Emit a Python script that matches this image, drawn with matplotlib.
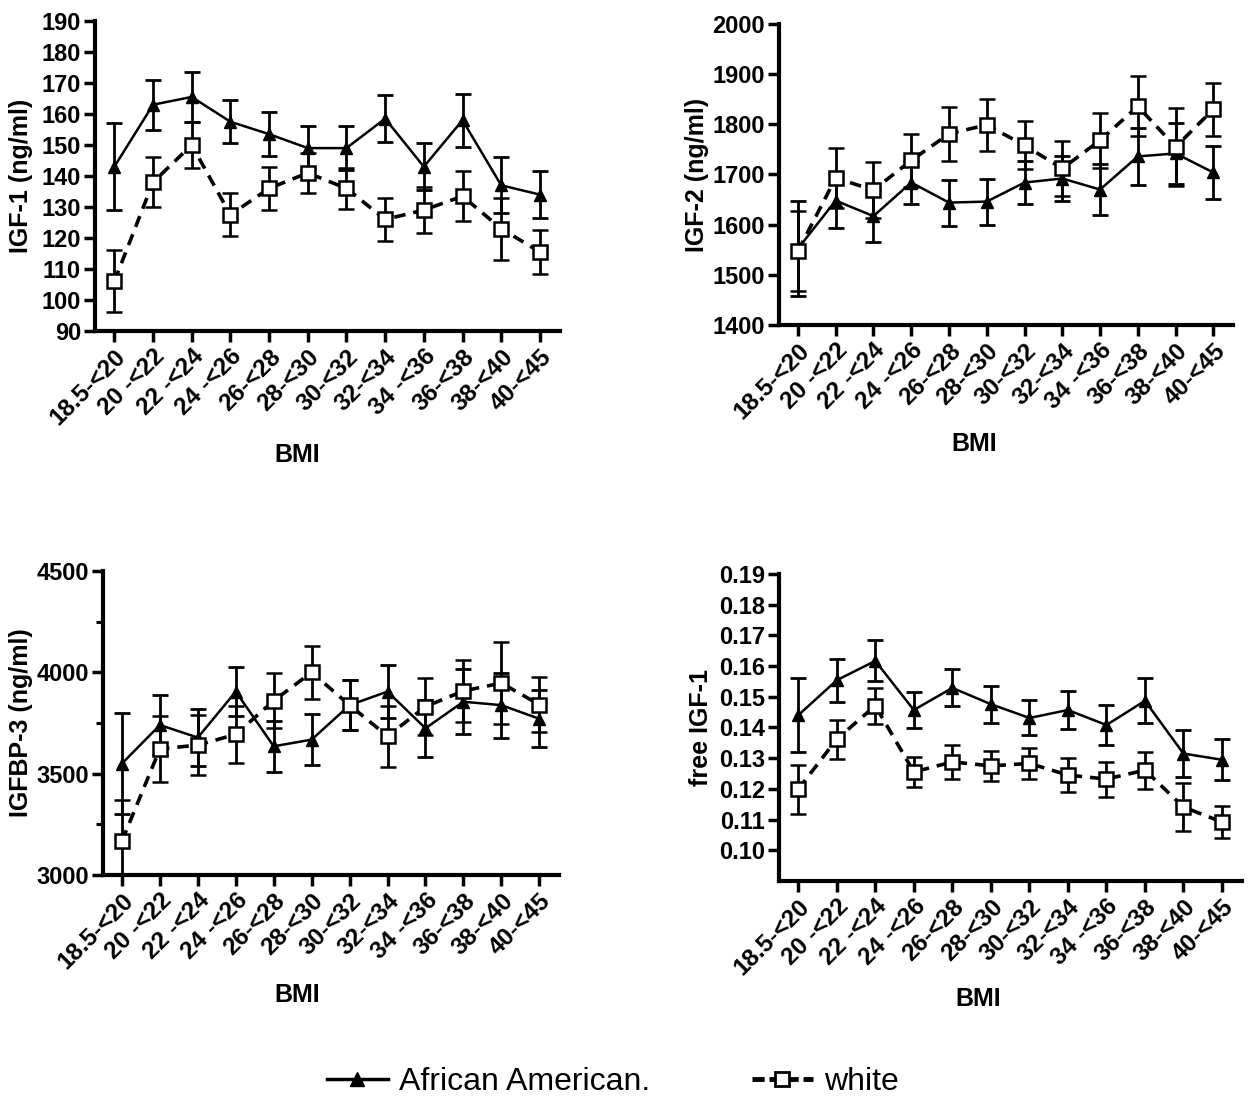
import numpy as np
import matplotlib
matplotlib.use('Agg')
import matplotlib.pyplot as plt
from matplotlib.lines import Line2D

plt.rcParams['font.family'] = ['Liberation Sans', 'DejaVu Sans']

# BMI categories
bmi_labels = ['18.5-<20', '20 -<22', '22 -<24', '24 -<26', '26-<28', '28-<30',
              '30-<32', '32-<34', '34 -<36', '36-<38', '38-<40', '40-<45']

# IGF-1 (ng/ml), mean and SE
igf1_aa = [143, 163, 165.5, 157.5, 153.5, 149, 149, 158.5, 143, 158, 137, 134]
igf1_aa_se = [14, 8, 8, 7, 7, 7, 7, 7.5, 7.5, 8.5, 9, 7.5]
igf1_wh = [106, 138, 150, 127.5, 136, 141, 136, 126, 129, 133.5, 123, 115.5]
igf1_wh_se = [10, 8, 7.5, 7, 7, 6.5, 6.5, 7, 7.5, 8, 10, 7]

# IGF-2 (ng/ml)
igf2_aa = [1552, 1648, 1617, 1684, 1644, 1646, 1684, 1692, 1670, 1736, 1742, 1704]
igf2_aa_se = [95, 55, 52, 43, 46, 46, 42, 45, 51, 57, 60, 52]
igf2_wh = [1547, 1693, 1669, 1728, 1781, 1799, 1758, 1712, 1768, 1836, 1755, 1830]
igf2_wh_se = [80, 60, 55, 52, 54, 52, 48, 55, 55, 60, 77, 53]

# IGFBP-3 (ng/ml)
bp3_aa = [3550, 3740, 3678, 3905, 3635, 3668, 3838, 3905, 3724, 3855, 3838, 3771]
bp3_aa_se = [250, 150, 140, 120, 125, 125, 125, 130, 140, 160, 160, 141]
bp3_wh = [3168, 3622, 3641, 3694, 3860, 4000, 3838, 3685, 3831, 3908, 3947, 3841]
bp3_wh_se = [200, 163, 150, 140, 135, 130, 125, 150, 140, 155, 204, 134]

# free IGF-1
free_aa = [0.144, 0.1554, 0.1617, 0.1457, 0.1529, 0.1476, 0.1431, 0.1457, 0.1408, 0.1487, 0.1315, 0.1295]
free_aa_se = [0.012, 0.007, 0.0067, 0.006, 0.006, 0.006, 0.0057, 0.0063, 0.0066, 0.0073, 0.0077, 0.0067]
free_wh = [0.1199, 0.1362, 0.1471, 0.1255, 0.1288, 0.1275, 0.1283, 0.1245, 0.1232, 0.1261, 0.1141, 0.1092]
free_wh_se = [0.008, 0.0063, 0.0058, 0.005, 0.0056, 0.005, 0.005, 0.0055, 0.0057, 0.006, 0.0078, 0.0053]

W, H = 1248, 1102
fig = plt.figure(figsize=(W / 100, H / 100), dpi=100)


def px_axes(left, right, top, bottom):
    # axes from pixel box
    return fig.add_axes([left / W, 1 - bottom / H, (right - left) / W, (bottom - top) / H])


dash = (0, (3.2, 2.2))


def draw_panel(ax, aa, aa_se, wh, wh_se, ylabel, ylim, yticks, fmt, ylab_x, bmi_x, bmi_y, minor=None):
    x = np.arange(len(bmi_labels))
    ax.errorbar(x, aa, yerr=aa_se, color='black', lw=1.8, marker='^', ms=9,
                capsize=5.5, capthick=2, elinewidth=2, zorder=3)
    ax.errorbar(x, wh, yerr=wh_se, color='black', lw=2.6, linestyle=dash, marker='s', ms=10,
                mfc='white', mec='black', mew=1.8, capsize=5.5, capthick=2, elinewidth=2, zorder=4)
    ax.set_xlim(-0.5, 11.52)
    ax.set_ylim(*ylim)
    ax.set_yticks(yticks)
    ax.set_yticklabels([fmt.format(v) for v in yticks])
    if minor is not None:
        ax.set_yticks(minor, minor=True)
        ax.tick_params(axis='y', which='minor', length=5, width=2.2)
    ax.set_xticks(x)
    ax.set_xticklabels(bmi_labels, rotation=45, ha='right', rotation_mode='anchor')
    for s in ['top', 'right']:
        ax.spines[s].set_visible(False)
    for s in ['left', 'bottom']:
        ax.spines[s].set_linewidth(3)
    ax.tick_params(axis='both', which='major', length=8, width=2.5, labelsize=17, pad=2)
    for lab in ax.get_xticklabels() + ax.get_yticklabels():
        lab.set_fontweight('bold')
    for lab in ax.get_xticklabels():
        lab.set_fontsize(17.5)
    ax.set_ylabel(ylabel, fontsize=18, fontweight='bold')
    bb = ax.get_position()
    ax.yaxis.set_label_coords((ylab_x / W - bb.x0) / bb.width, 0.5)
    fig.text(bmi_x / W, 1 - bmi_y / H, 'BMI', fontsize=18, fontweight='bold', ha='center', va='center')


ax1 = px_axes(95, 560, 21, 331)
draw_panel(ax1, igf1_aa, igf1_aa_se, igf1_wh, igf1_wh_se, 'IGF-1 (ng/ml)', (90, 190),
           list(range(90, 191, 10)), '{:d}', 33, 297, 455)

ax2 = px_axes(779, 1233, 24, 325)
draw_panel(ax2, igf2_aa, igf2_aa_se, igf2_wh, igf2_wh_se, 'IGF-2 (ng/ml)', (1400, 2000),
           list(range(1400, 2001, 100)), '{:d}', 709, 974, 444)

ax3 = px_axes(103, 559, 571, 875)
draw_panel(ax3, bp3_aa, bp3_aa_se, bp3_wh, bp3_wh_se, 'IGFBP-3 (ng/ml)', (3000, 4500),
           [3000, 3500, 4000, 4500], '{:d}', 33, 297, 995, minor=[3250, 3750, 4250])

ax4 = px_axes(779, 1242, 574, 881)
draw_panel(ax4, free_aa, free_aa_se, free_wh, free_wh_se, 'free IGF-1', (0.09, 0.19),
           [round(0.10 + 0.01 * i, 2) for i in range(10)], '{:.2f}', 713, 978, 999)

handles = [
    Line2D([], [], color='black', lw=2.5, marker='^', ms=10),
    Line2D([], [], color='black', lw=3.5, linestyle=(0, (2.5, 1)), marker='s', ms=10,
           mfc='white', mec='black', mew=2),
]
fig.legend(handles, ['African American.', 'white'], loc='center', ncol=2,
           bbox_to_anchor=(0.491, 0.018), frameon=False, fontsize=23,
           handlelength=1.9, handletextpad=0.35, columnspacing=3.2)

fig.savefig('out.png', dpi=100)
